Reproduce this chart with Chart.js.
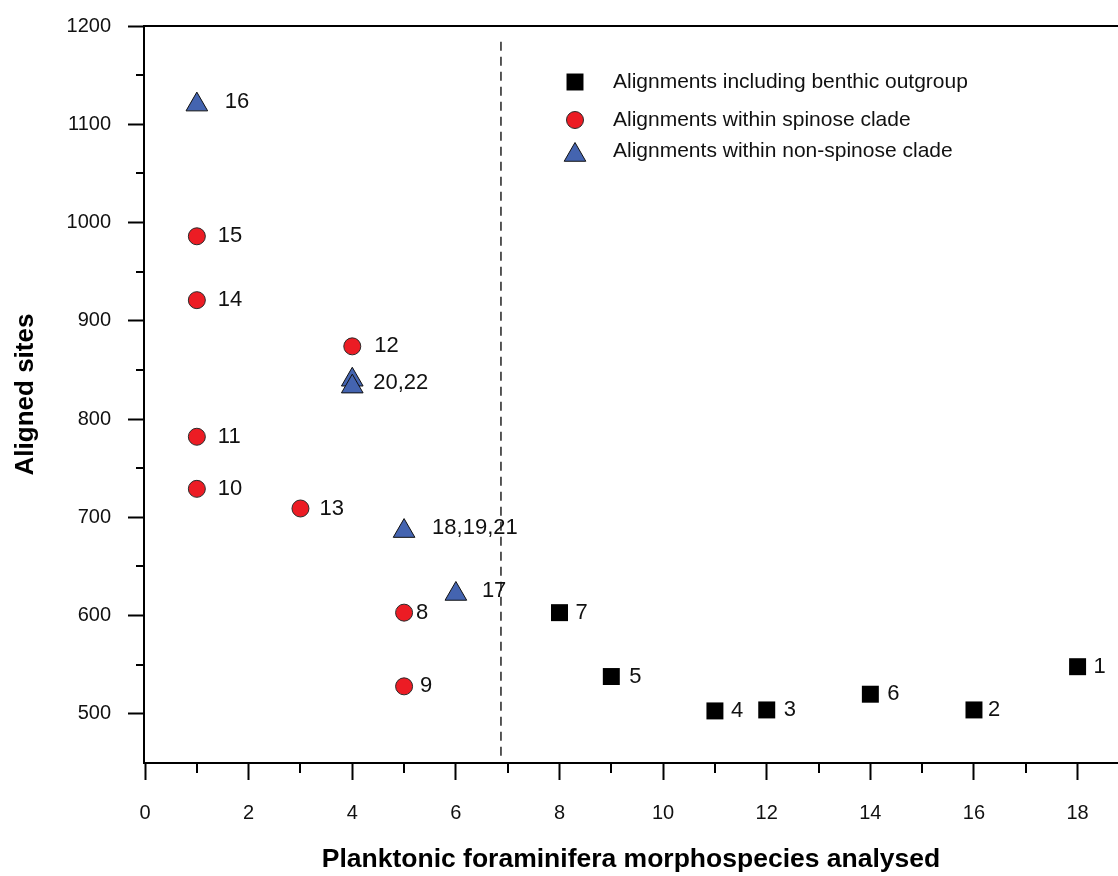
<!DOCTYPE html>
<html>
<head>
<meta charset="utf-8">
<script src="https://cdn.jsdelivr.net/npm/chart.js@4.4.0/dist/chart.umd.min.js"></script>
<style>
  html, body { margin: 0; padding: 0; background: #fff; }
  #wrap { width: 1118px; height: 876px; position: relative; }
</style>
</head>
<body>
<div id="wrap"><canvas id="c" width="1118" height="876"></canvas></div>
<script>
// ---------------- DATA ----------------
const seriesNames = [
  'Alignments including benthic outgroup',
  'Alignments within spinose clade',
  'Alignments within non-spinose clade'
];
// squares (benthic outgroup)
const benthicX = [18, 16, 12, 11, 9, 14, 8];
const benthicY = [548, 504, 504, 503, 538, 520, 603];
const benthicLabels = ['1', '2', '3', '4', '5', '6', '7'];
// circles (spinose)
const spinoseX = [5, 5, 1, 1, 4, 3, 1, 1];
const spinoseY = [603, 528, 729, 782, 874, 709, 921, 986];
const spinoseLabels = ['8', '9', '10', '11', '12', '13', '14', '15'];
// triangles (non-spinose)
const nonSpinoseX = [1, 6, 5, 4, 4];
const nonSpinoseY = [1120, 622, 686, 840, 833];
const nonSpinoseLabels = ['16', '17', '18,19,21', '20,22', ''];
// dashed separator
const dividerX = 6.87;
const dividerRange = [1184, 456];
// axes
const xTickValues = [0, 1, 2, 3, 4, 5, 6, 7, 8, 9, 10, 11, 12, 13, 14, 15, 16, 17, 18];
const yTickValues = [500, 550, 600, 650, 700, 750, 800, 850, 900, 950, 1000, 1050, 1100, 1150, 1200];
const xTitle = 'Planktonic foraminifera morphospecies analysed';
const yTitle = 'Aligned sites';

// ---------------- STYLE (label offsets in px) ----------------
const benthicLabelDx = [16, 14, 17, 16, 18, 17, 16];
const spinoseLabelDx = [12, 16, 21, 21, 22, 19, 21, 21];
const nonSpinoseLabelDx = [28, 26, 28, 21, 0];
const nonSpinoseLabelDy = [-3, -3, -3, 3, 0];

const FONT = "'Liberation Sans', Arial, Helvetica, sans-serif";
const pts = (xs, ys) => xs.map((x, i) => ({ x: x, y: ys[i] }));

const styles = [
  { pointStyle: 'rect', radius: 12, bg: '#000000', border: '#000000', bw: 0 },
  { pointStyle: 'circle', radius: 8.5, bg: '#ec1c24', border: '#2a2a2a', bw: 1 },
  { pointStyle: 'triangle', radius: 12.5, bg: '#4464b0', border: '#111111', bw: 1 }
];

const labelPlugin = {
  id: 'pointLabels',
  afterDatasetsDraw(chart) {
    const ctx = chart.ctx;
    const sets = [
      [benthicLabels, benthicLabelDx, null],
      [spinoseLabels, spinoseLabelDx, null],
      [nonSpinoseLabels, nonSpinoseLabelDx, nonSpinoseLabelDy]
    ];
    ctx.save();
    ctx.font = '22px ' + FONT;
    ctx.fillStyle = '#111';
    ctx.textAlign = 'left';
    ctx.textBaseline = 'middle';
    sets.forEach((s, di) => {
      const meta = chart.getDatasetMeta(di);
      meta.data.forEach((el, j) => {
        const t = s[0][j];
        if (!t) return;
        const dy = s[2] ? s[2][j] : 0;
        ctx.fillText(t, el.x + s[1][j], el.y + dy);
      });
    });
    ctx.restore();
  }
};

const framePlugin = {
  id: 'frame',
  afterDraw(chart) {
    const ctx = chart.ctx;
    const a = chart.chartArea;
    const xs = chart.scales.x, ys = chart.scales.y;
    ctx.save();
    ctx.strokeStyle = '#000';
    ctx.lineWidth = 2;
    // top frame line
    ctx.beginPath();
    ctx.moveTo(a.left, a.top);
    ctx.lineTo(a.right, a.top);
    ctx.stroke();
    // minor ticks
    ctx.beginPath();
    xTickValues.forEach(v => {
      if (v % 2 !== 0) {
        const px = Math.round(xs.getPixelForValue(v));
        ctx.moveTo(px, a.bottom);
        ctx.lineTo(px, a.bottom + 10);
      }
    });
    yTickValues.forEach(v => {
      if (v % 100 !== 0) {
        const py = Math.round(ys.getPixelForValue(v));
        ctx.moveTo(a.left, py);
        ctx.lineTo(a.left - 8, py);
      }
    });
    ctx.stroke();
    // legend
    const rows = [82, 120, 155];
    const textY = [82, 120, 151];
    styles.forEach((st, i) => {
      ctx.fillStyle = st.bg;
      ctx.strokeStyle = st.border;
      ctx.lineWidth = st.bw;
      Chart.helpers.drawPoint(ctx, { pointStyle: st.pointStyle, radius: st.radius, rotation: 0, borderWidth: st.bw }, 575, rows[i]);
    });
    ctx.font = '21px ' + FONT;
    ctx.fillStyle = '#111';
    ctx.textAlign = 'left';
    ctx.textBaseline = 'middle';
    seriesNames.forEach((n, i) => ctx.fillText(n, 613, textY[i]));
    ctx.restore();
  }
};

const mkSet = (name, data, st) => ({
  label: name,
  data: data,
  pointStyle: st.pointStyle,
  pointRadius: st.radius,
  pointHoverRadius: st.radius,
  backgroundColor: st.bg,
  borderColor: st.border,
  borderWidth: st.bw,
  showLine: false
});

new Chart(document.getElementById('c'), {
  type: 'scatter',
  data: {
    datasets: [
      mkSet(seriesNames[0], pts(benthicX, benthicY), styles[0]),
      mkSet(seriesNames[1], pts(spinoseX, spinoseY), styles[1]),
      mkSet(seriesNames[2], pts(nonSpinoseX, nonSpinoseY), styles[2]),
      {
        label: 'divider',
        data: [{ x: dividerX, y: dividerRange[0] }, { x: dividerX, y: dividerRange[1] }],
        showLine: true,
        pointRadius: 0,
        borderColor: '#222',
        borderWidth: 1.5,
        borderDash: [9, 6],
        fill: false
      }
    ]
  },
  options: {
    responsive: false,
    animation: false,
    events: [],
    layout: { autoPadding: false, padding: { top: 26, left: 0, right: 0, bottom: 0 } },
    plugins: { legend: { display: false }, tooltip: { enabled: false } },
    scales: {
      x: {
        type: 'linear',
        min: -0.02,
        max: 18.78,
        afterBuildTicks: s => { s.ticks = xTickValues.map(v => ({ value: v })); },
        afterFit: s => { s.height = 113; s.paddingLeft = 0; s.paddingRight = 0; },
        grid: {
          display: true, drawOnChartArea: false, drawTicks: true,
          tickLength: 17, tickWidth: 2,
          tickColor: c => (c.tick && c.tick.value % 2 === 0) ? '#000' : 'rgba(0,0,0,0)'
        },
        border: { display: true, color: '#000', width: 2 },
        ticks: {
          autoSkip: false, maxRotation: 0, minRotation: 0,
          padding: 21, color: '#111',
          font: { family: FONT, size: 20 },
          callback: v => (v % 2 === 0 ? String(v) : '')
        },
        title: {
          display: true, text: xTitle, color: '#000',
          font: { family: FONT, size: 26.5, weight: 'bold' },
          padding: { top: 0, bottom: 0 }
        }
      },
      y: {
        type: 'linear',
        min: 450,
        max: 1200,
        afterBuildTicks: s => { s.ticks = yTickValues.map(v => ({ value: v })); },
        afterFit: s => { s.width = 144; s.paddingTop = 0; s.paddingBottom = 0; },
        grid: {
          display: true, drawOnChartArea: false, drawTicks: true,
          tickLength: 16, tickWidth: 2,
          tickColor: c => (c.tick && c.tick.value % 100 === 0) ? '#000' : 'rgba(0,0,0,0)'
        },
        border: { display: true, color: '#000', width: 2 },
        ticks: {
          autoSkip: false,
          padding: 17, color: '#111',
          font: { family: FONT, size: 20 },
          callback: v => (v % 100 === 0 ? String(v) : '')
        },
        title: {
          display: true, text: yTitle, color: '#000',
          font: { family: FONT, size: 26, weight: 'bold' },
          padding: { top: 10, bottom: 0 }
        }
      }
    }
  },
  plugins: [labelPlugin, framePlugin]
});
</script>
</body>
</html>
